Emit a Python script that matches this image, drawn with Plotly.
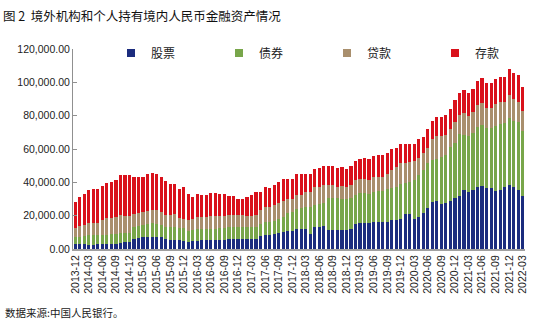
import plotly.graph_objects as go
import pandas as pd

# Monthly categories 2013-12 .. 2022-03
months = pd.date_range("2013-12-01", periods=100, freq="MS").strftime("%Y-%m").tolist()
tick_labels = months[::3]

series_names = ["股票", "债券", "贷款", "存款"]

stocks = [3200, 3200, 3200, 2600, 2600, 3200, 3200, 3200, 3200, 3300,
          3800, 4500, 4500, 6000, 6400, 7400, 7400, 7400, 7400, 7000,
          6200, 5600, 5200, 5200, 4800, 4200, 5100, 5100, 5200, 5200,
          5200, 5300, 5400, 5600, 5800, 6000, 6100, 6100, 5900, 5900,
          6300, 8000, 8400, 8400, 8800, 9400, 10000, 11000, 11100, 12000,
          12000, 12200, 9200, 13000, 13000, 13600, 11600, 11600, 11600, 11600,
          11600, 11800, 15200, 15800, 15800, 15600, 16200, 16200, 16300, 16500,
          17500, 17300, 18300, 21100, 21100, 18300, 19200, 21700, 24700, 28500,
          29100, 27100, 27500, 29100, 30700, 32100, 35300, 34500, 35500, 37100,
          37900, 36500, 36500, 34700, 35300, 37100, 38700, 37500, 35700, 31900]

bonds = [3800, 4300, 4800, 5600, 5600, 5000, 5200, 5400, 5600, 5700,
         6000, 5300, 5300, 7500, 7600, 7200, 7600, 8000, 7600, 7600,
         7300, 7500, 8300, 7300, 7700, 6800, 6400, 6800, 6800, 6800,
         7000, 7000, 7100, 7200, 7200, 7200, 7300, 7300, 7300, 7300,
         7200, 7000, 7600, 7600, 8000, 8600, 9500, 10500, 11400, 12000,
         12800, 13000, 16000, 13700, 14000, 13900, 18900, 18900, 18900, 18500,
         18500, 18700, 17300, 17700, 17700, 17300, 18300, 18700, 18600, 19400,
         19400, 20200, 20800, 18400, 18900, 23200, 25100, 25800, 26800, 25000,
         25200, 28400, 29000, 32000, 32800, 37000, 33200, 33400, 34000, 36300,
         36600, 36000, 36000, 39200, 39800, 38400, 40100, 39400, 40600, 39000]

loans = [5600, 6300, 6700, 7400, 7700, 7700, 9100, 9900, 10100, 10500,
         10700, 10200, 10200, 7600, 7800, 7700, 7700, 8100, 8300, 7900,
         7200, 7400, 7400, 6000, 5800, 6500, 6500, 7600, 7500, 7500,
         7500, 7400, 7300, 7200, 7200, 7100, 7100, 7100, 6800, 6800,
         6800, 8500, 9500, 9500, 9700, 9800, 9300, 8400, 7500, 8200,
         7500, 9300, 9300, 10400, 10300, 11000, 8000, 8000, 6600, 7800,
         7400, 8000, 9000, 8600, 8600, 8600, 8600, 8600, 8600, 9000,
         10600, 11500, 12400, 12300, 12000, 11500, 10500, 10000, 9000, 12800,
         13600, 12400, 12000, 11000, 12900, 11300, 13300, 11900, 12900, 13000,
         13300, 12300, 12300, 13000, 13100, 12700, 13800, 12900, 11900, 11900]

deposits = [15700, 17200, 18600, 19700, 20100, 20100, 20600, 21000, 21600, 21800,
            24000, 24500, 24500, 22100, 21400, 20900, 22400, 22300, 22000, 20700,
            19900, 18400, 17900, 17400, 18900, 15500, 13200, 13500, 12700, 13200,
            13700, 13700, 13300, 13100, 11900, 11500, 9400, 9400, 11100, 12300,
            13700, 10600, 11700, 11200, 11700, 12200, 13200, 12100, 12000, 13000,
            12900, 10600, 10600, 11100, 11400, 11400, 11400, 11400, 11600, 11200,
            10800, 11400, 11200, 12000, 12400, 12400, 12800, 13000, 13000, 13000,
            12800, 11500, 11800, 11500, 11300, 10300, 11500, 10000, 11400, 10700,
            11300, 11300, 11900, 12100, 13000, 13400, 13600, 13600, 13600, 14400,
            14600, 14600, 14600, 14900, 15200, 15200, 15200, 15600, 16200, 14600]

colors = ["#1b2c7e", "#78a64a", "#a98f6d", "#d9111b"]

cjk = "Noto Sans CJK SC"
W, H = 550, 330
L, R, T, B = 73, 25, 49, 81
PW = W - L - R
PH = H - T - B
legend_ids = ["legend", "legend2", "legend3", "legend4"]
legend_px = [111, 219, 327, 435]   # left edge of each legend box, px

fig = go.Figure()
for name, vals, c in zip(series_names, [stocks, bonds, loans, deposits], colors):
    fig.add_bar(x=months, y=vals, name=name, marker_color=c,
                marker_line_width=0, showlegend=False)
for name, c, lid in zip(series_names, colors, legend_ids):
    fig.add_scatter(x=[None], y=[None], mode="markers", name=name, legend=lid,
                    marker=dict(symbol="square", size=8, color=c))

legend_layout = {}
for lid, px in zip(legend_ids, legend_px):
    legend_layout[lid] = dict(orientation="h", x=(px - L) / PW, y=1 - (53 - T) / PH,
                              xanchor="left", yanchor="middle", itemwidth=30,
                              font=dict(family=cjk, size=12, color="#222"),
                              bgcolor="rgba(0,0,0,0)")

fig.update_layout(
    width=W, height=H,
    margin=dict(l=L, r=R, t=T, b=B),
    paper_bgcolor="white", plot_bgcolor="white",
    barmode="stack", bargap=0.3,
    font=dict(family="Liberation Sans, " + cjk, size=11, color="#222"),
    title=dict(text="图 2  境外机构和个人持有境内人民币金融资产情况",
               xref="container", yref="container",
               x=3 / W, y=1 - 17 / H, xanchor="left", yanchor="middle",
               font=dict(family=cjk, size=12.5, color="#111")),
    xaxis=dict(type="category",
               tickmode="array", tickvals=tick_labels, ticktext=tick_labels,
               tickangle=-90, showline=True, linecolor="#a0a0a0", linewidth=2,
               ticks="", showgrid=False, tickfont=dict(size=10.5, color="#222")),
    yaxis=dict(range=[0, 120000], tickmode="linear", tick0=0, dtick=20000,
               tickformat=",.2f", showline=True, linecolor="#909090", linewidth=1,
               ticks="inside", ticklen=4, tickcolor="#909090", showgrid=False,
               zeroline=False, tickfont=dict(size=10.5, color="#222")),
    annotations=[dict(text="数据来源:中国人民银行。", xref="paper", yref="paper",
                      x=(3 - L) / PW, y=-(312 - 249) / PH, xanchor="left",
                      yanchor="middle", showarrow=False,
                      font=dict(family=cjk, size=10.5, color="#222"))],
    **legend_layout,
)

fig.write_html("out.html")
